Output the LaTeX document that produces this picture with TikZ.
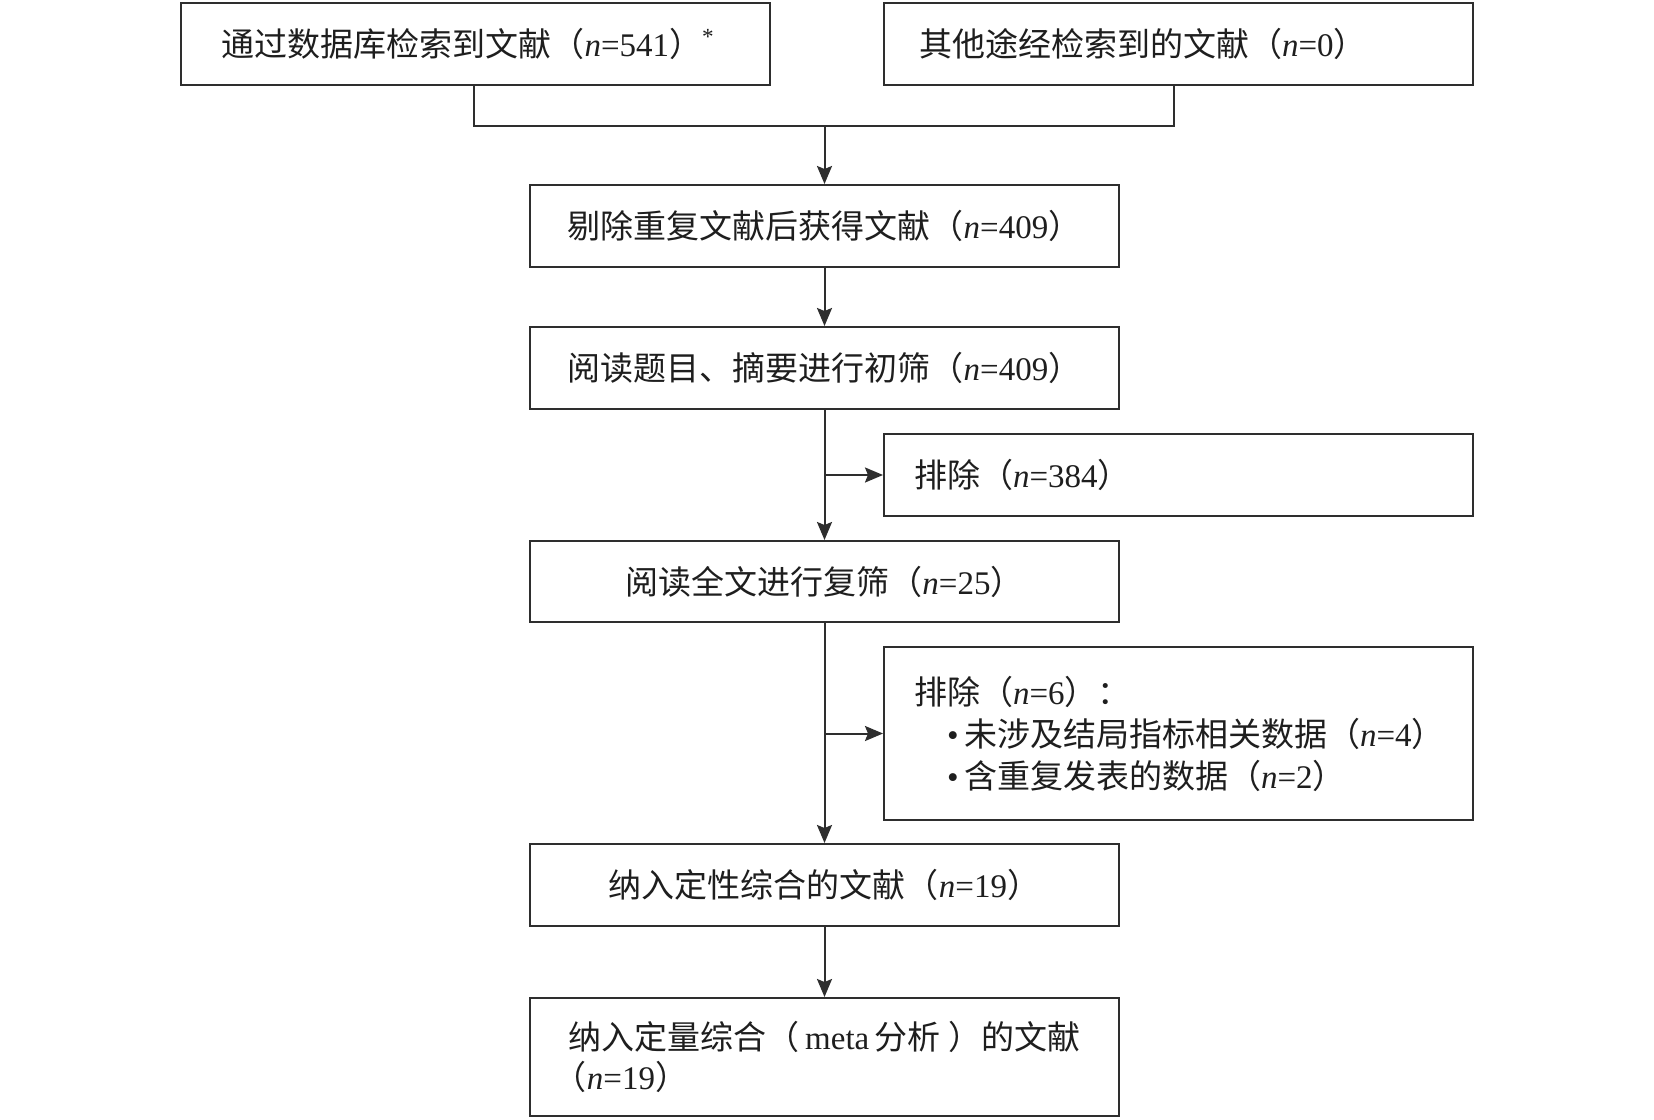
\documentclass[tikz,border=0pt]{standalone}
\usepackage{fontspec}
\setmainfont{Liberation Serif}
\newfontfamily\cjk{Noto Sans CJK SC}
\usetikzlibrary{arrows.meta}
\newcommand\zht[1]{{\cjk #1}}
\newcommand\nn{\textit{n}}
\definecolor{linec}{HTML}{2E2E2E}
\definecolor{textc}{HTML}{1E1E1E}
\begin{document}
\begin{tikzpicture}[x=0.5pt,y=-0.5pt]
\useasboundingbox[fill=white] (0,0) rectangle (1654,1119);
\tikzset{
  box/.style={draw=linec, line width=1pt, text=textc, inner sep=0pt,
    font=\fontsize{16.5}{20}\selectfont, minimum width=294.5pt, minimum height=41pt},
  lbox/.style={box, align=left, inner xsep=#1, text width=294.5pt-2*#1},
  cbox/.style={box, align=center},
  link/.style={draw=linec, line width=1pt},
  arr/.style={link, -{Stealth[length=9pt,width=7.5pt,inset=1.5pt]}}
}
% top boxes
\node[lbox=20.5pt] (b1) at (475,44) {\zht{通过数据库检索到文献（}\nn=541\zht{）}\textsuperscript{*}};
\node[lbox=17.5pt] (b2) at (1178.5,44) {\zht{其他途经检索到的文献（}\nn=0\zht{）}};
% main column
\node[cbox] (b3) at (824.5,226) {\zht{剔除重复文献后获得文献（}\nn=409\zht{）}};
\node[cbox] (b4) at (824.5,368) {\zht{阅读题目、摘要进行初筛（}\nn=409\zht{）}};
\node[cbox, minimum height=40.5pt] (b5) at (824.5,581.5) {\zht{阅读全文进行复筛（}\nn=25\zht{）}};
\node[cbox] (b6) at (824.5,885) {\zht{纳入定性综合的文献（}\nn=19\zht{）}};
\node[box, align=left, minimum height=59pt] (b7) at (824.5,1057)
  {\zht{纳入定量综合（}\,meta\,\zht{分析 ）的文献}\\\hspace*{-0.45em}\zht{（}\nn=19\zht{）}};
% exclusion boxes
\node[lbox=15pt] (e1) at (1178.5,475) {\zht{排除（}\nn=384\zht{）}};
\node[lbox=15pt, minimum height=86.5pt, font=\fontsize{16.5}{21}\selectfont] (e2) at (1178.5,733.5)
  {\zht{排除（}\nn=6\zht{）：}\\
   \hspace*{1em}\textbullet\,\zht{未涉及结局指标相关数据（}\nn=4\zht{）}\\
   \hspace*{1em}\textbullet\,\zht{含重复发表的数据（}\nn=2\zht{）}};
% connectors
\coordinate (m1) at (474,126);
\coordinate (m2) at (1174,126);
\coordinate (mc) at (824.5,126);
\draw[link] (b1.south -| m1) -- (m1) -- (m2) -- (b2.south -| m2);
\draw[arr] (mc) -- (b3.north);
\draw[arr] (b3.south) -- (b4.north);
\draw[arr] (b4.south) -- (b5.north);
\draw[arr] (b4.south |- e1.west) -- (e1.west);
\draw[arr] (b5.south) -- (b6.north);
\draw[arr] (b5.south |- e2.west) -- (e2.west);
\draw[arr] (b6.south) -- (b7.north);
\end{tikzpicture}
\end{document}
